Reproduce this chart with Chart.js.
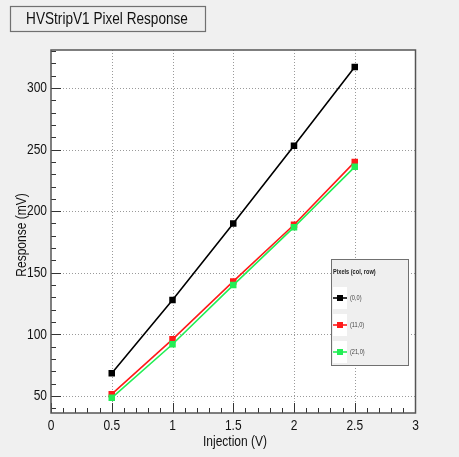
<!DOCTYPE html>
<html>
<head>
<meta charset="utf-8">
<script src="https://cdn.jsdelivr.net/npm/chart.js@4/dist/chart.umd.min.js"></script>
<style>
html,body{margin:0;padding:0;background:#f0f0f0;}
canvas{display:block;}
</style>
</head>
<body>
<canvas id="c" width="459" height="457"></canvas>
<script>
const chartTitle = "HVStripV1 Pixel Response";
const xTitle = "Injection (V)";
const yTitle = "Response (mV)";
const legendTitle = "Pixels (col, row)";
const injection = [0.5, 1.0, 1.5, 2.0, 2.5];
const seriesNames = ["(0,0)", "(11,0)", "(21,0)"];
const pixel00 = [68.5, 128, 190, 253, 317];
const pixel110 = [51.5, 96, 143, 189, 240];
const pixel210 = [48.5, 92, 140, 187, 236];
const seriesColors = ["#000000", "#ff1a1a", "#22ee55"];
const xTicks = [0, 0.5, 1, 1.5, 2, 2.5, 3];
const yTicks = [50, 100, 150, 200, 250, 300];

const FONT = '"Liberation Sans", Arial, sans-serif';
const SQX = 0.8; // horizontal squeeze to mimic narrow Helvetica
const seriesValues = [pixel00, pixel110, pixel210];

function txt(ctx, s, x, y, size, align, weight, color, rot) {
  ctx.save();
  ctx.translate(x, y);
  if (rot) ctx.rotate(rot);
  ctx.scale(SQX, 1);
  ctx.font = (weight ? weight + ' ' : '') + size + 'px ' + FONT;
  ctx.textAlign = align;
  ctx.textBaseline = 'middle';
  ctx.fillStyle = color;
  ctx.fillText(s, 0, 0);
  ctx.restore();
}

const datasets = seriesValues.map((vals, i) => ({
  label: seriesNames[i],
  data: injection.map((x, j) => ({x: x, y: vals[j]})),
  showLine: true,
  borderColor: seriesColors[i],
  backgroundColor: seriesColors[i],
  borderWidth: 1.6,
  pointStyle: 'rect',
  pointRadius: 4.6,
  pointBorderWidth: 0,
  order: 2 - i
}));

const decor = {
  id: 'decor',
  beforeDatasetsDraw(chart) {
    const ctx = chart.ctx, a = chart.chartArea;
    const xs = chart.scales.x, ys = chart.scales.y;
    ctx.save();
    ctx.fillStyle = '#ffffff';
    ctx.fillRect(a.left, a.top, a.right - a.left, a.bottom - a.top);
    // dotted grid
    ctx.strokeStyle = '#9a9a9a';
    ctx.lineWidth = 1;
    ctx.setLineDash([1, 2]);
    xTicks.forEach(v => {
      const px = Math.round(xs.getPixelForValue(v)) + 0.5;
      if (px <= a.left + 1 || px >= a.right - 1) return;
      ctx.beginPath(); ctx.moveTo(px, a.top); ctx.lineTo(px, a.bottom); ctx.stroke();
    });
    yTicks.forEach(v => {
      const py = Math.round(ys.getPixelForValue(v)) + 0.5;
      ctx.beginPath(); ctx.moveTo(a.left, py); ctx.lineTo(a.right, py); ctx.stroke();
    });
    ctx.setLineDash([]);
    // tick marks (inside)
    ctx.strokeStyle = '#333333';
    for (let k = 0; k < 30; k++) {
      const v = k / 10;
      const px = Math.round(xs.getPixelForValue(v)) + 0.5;
      const len = (k % 5 === 0) ? 10 : 5;
      ctx.beginPath(); ctx.moveTo(px, a.bottom); ctx.lineTo(px, a.bottom - len); ctx.stroke();
    }
    for (let v = 40; v <= 330; v += 10) {
      if (v < ys.min || v > ys.max) continue;
      const py = Math.round(ys.getPixelForValue(v)) + 0.5;
      const len = (v % 50 === 0) ? 10 : 5;
      ctx.beginPath(); ctx.moveTo(a.left, py); ctx.lineTo(a.left + len, py); ctx.stroke();
    }
    ctx.restore();
  },
  afterDraw(chart) {
    const ctx = chart.ctx, a = chart.chartArea;
    const xs = chart.scales.x, ys = chart.scales.y;
    ctx.save();
    // frame
    ctx.strokeStyle = '#555555';
    ctx.lineWidth = 1.5;
    ctx.strokeRect(a.left, a.top, a.right - a.left, a.bottom - a.top);
    // tick labels
    xTicks.forEach(v => txt(ctx, String(v), xs.getPixelForValue(v), 426, 15, 'center', '', '#111111'));
    yTicks.forEach(v => txt(ctx, String(v), 47, ys.getPixelForValue(v), 15, 'right', '', '#111111'));
    // title box
    ctx.fillStyle = '#eeeeee';
    ctx.fillRect(10, 6, 195, 25);
    ctx.strokeStyle = '#707070';
    ctx.lineWidth = 1.2;
    ctx.strokeRect(10.5, 6.5, 195, 25);
    txt(ctx, chartTitle, 107, 19, 17, 'center', '', '#111111');
    // axis titles
    txt(ctx, xTitle, 235, 442, 15, 'center', '', '#111111');
    txt(ctx, yTitle, 22, 235, 15, 'center', '', '#111111', -Math.PI / 2);
    // legend
    const lx = 331.5, ly = 259.5, lw = 77, lh = 106;
    ctx.fillStyle = '#efefef';
    ctx.fillRect(lx, ly, lw, lh);
    ctx.strokeStyle = '#707070';
    ctx.lineWidth = 1;
    ctx.strokeRect(lx, ly, lw, lh);
    txt(ctx, legendTitle, 333, 272, 7, 'left', 'bold', '#222222');
    const rows = [298, 325, 352];
    seriesNames.forEach((name, i) => {
      const y = rows[i];
      ctx.fillStyle = '#ffffff';
      ctx.fillRect(333, y - 11, 14, 22);
      ctx.strokeStyle = seriesColors[i];
      ctx.lineWidth = 1.6;
      ctx.beginPath(); ctx.moveTo(333, y); ctx.lineTo(347, y); ctx.stroke();
      ctx.fillStyle = seriesColors[i];
      ctx.fillRect(337, y - 3, 6, 6);
      txt(ctx, name, 350, y, 7, 'left', '', '#444444');
    });
    ctx.restore();
  }
};

new Chart(document.getElementById('c'), {
  type: 'scatter',
  data: {datasets: datasets},
  options: {
    responsive: false,
    animation: false,
    devicePixelRatio: 1,
    layout: {padding: {left: 0, top: 50, right: 43.5, bottom: 0}},
    plugins: {legend: {display: false}, tooltip: {enabled: false}, title: {display: false}},
    scales: {
      x: {
        type: 'linear', min: 0, max: 3,
        afterFit(s) { s.height = 44; },
        afterBuildTicks(s) { s.ticks = xTicks.map(v => ({value: v})); },
        grid: {display: false, drawTicks: false},
        border: {display: false},
        ticks: {display: false}
      },
      y: {
        type: 'linear', min: 36.2, max: 330.8,
        afterFit(s) { s.width = 51; },
        afterBuildTicks(s) { s.ticks = yTicks.map(v => ({value: v})); },
        grid: {display: false, drawTicks: false},
        border: {display: false},
        ticks: {display: false}
      }
    }
  },
  plugins: [decor]
});
</script>
</body>
</html>
